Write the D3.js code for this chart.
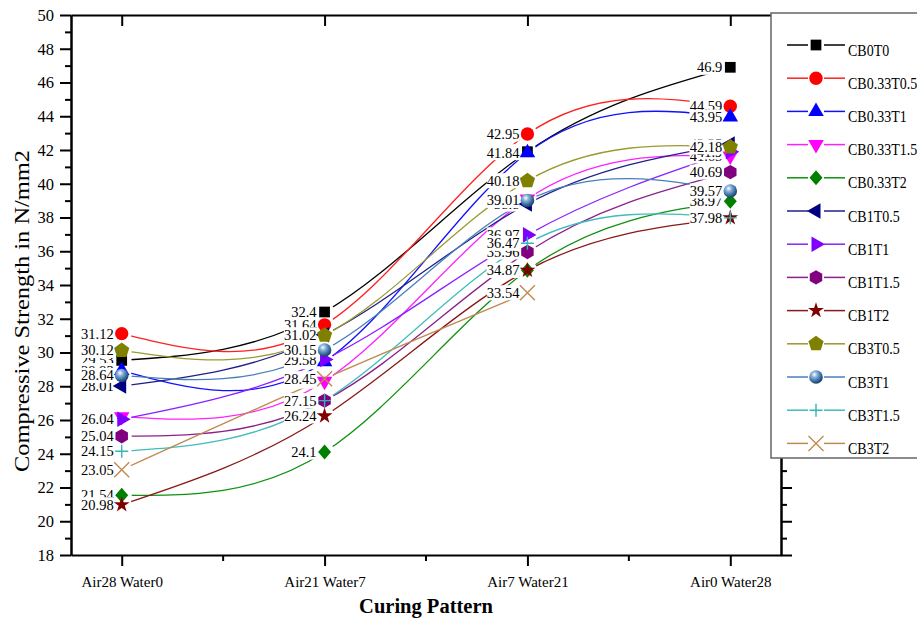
<!DOCTYPE html>
<html>
<head>
<meta charset="utf-8">
<script src="https://cdn.jsdelivr.net/npm/d3@7"></script>
<style>
body { margin: 0; background: #fff; }
svg { display: block; }
text { font-family: "Liberation Serif", "Times New Roman", serif; fill: #000; }
</style>
</head>
<body>
<div id="chart"></div>
<script>
// curing patterns on the x axis
var categories = ['Air28 Water0', 'Air21 Water7', 'Air7 Water21', 'Air0 Water28'];
var yTicks = d3.range(18, 51, 2);
var yMinor = d3.range(19, 50, 2);

// compressive strength (N/mm2) per mix
var seriesNames = ['CB0T0', 'CB0.33T0.5', 'CB0.33T1', 'CB0.33T1.5', 'CB0.33T2', 'CB1T0.5',
    'CB1T1', 'CB1T1.5', 'CB1T2', 'CB3T0.5', 'CB3T1', 'CB3T1.5', 'CB3T2'];
var cb0t0 = [29.53, 32.4, 41.9, 46.9];
var cb033t05 = [31.12, 31.64, 42.95, 44.59];
var cb033t1 = [28.93, 29.45, 41.84, 43.95];
var cb033t15 = [26.2, 28.3, 39.1, 41.65];
var cb033t2 = [21.54, 24.1, 34.87, 38.97];
var cb1t05 = [28.01, 31.05, 38.8, 42.35];
var cb1t1 = [26.04, 29.58, 36.97, 41.9];
var cb1t15 = [25.04, 27.15, 35.96, 40.69];
var cb1t2 = [20.98, 26.24, 34.87, 37.98];
var cb3t05 = [30.12, 31.02, 40.18, 42.18];
var cb3t1 = [28.64, 30.15, 39.01, 39.57];
var cb3t15 = [24.15, 27.15, 36.47, 37.98];
var cb3t2 = [23.05, 28.45, 33.54];

var seriesValues = [cb0t0, cb033t05, cb033t1, cb033t15, cb033t2, cb1t05,
    cb1t1, cb1t15, cb1t2, cb3t05, cb3t1, cb3t15, cb3t2];

// look of each series
var styles = [
    {color: '#000000', line: '#000000', shape: 'square'},
    {color: '#ff0000', line: '#ff2020', shape: 'circle'},
    {color: '#0000ff', line: '#1010ff', shape: 'up'},
    {color: '#ff00ff', line: '#ff20ff', shape: 'down'},
    {color: '#008000', line: '#109010', shape: 'diamond'},
    {color: '#000080', line: '#20208a', shape: 'left'},
    {color: '#8000ff', line: '#8a20ff', shape: 'right'},
    {color: '#800080', line: '#8a208a', shape: 'hexagon'},
    {color: '#800000', line: '#8a1818', shape: 'star'},
    {color: '#808000', line: '#9a9a30', shape: 'pentagon'},
    {color: '#336699', line: '#4a7ebb', shape: 'sphere'},
    {color: '#30b8b8', line: '#40bcbc', shape: 'plus'},
    {color: '#c08a50', line: '#c08a50', shape: 'x'}
];

(function(){
var series = seriesNames.map(function(name, i){
    return {name: name, values: seriesValues[i], style: styles[i]};
});

var width = 917, height = 621;
var plotLeft = 71, plotRight = 781, plotTop = 15, plotBottom = 555;

var x = d3.scalePoint().domain(categories).range([plotLeft, plotRight]).padding(0.25);
var y = d3.scaleLinear().domain([18, 50]).range([plotBottom, plotTop]);

var svg = d3.select('#chart').append('svg')
    .attr('width', width)
    .attr('height', height);
var defs = svg.append('defs');

var grad = defs.append('radialGradient')
    .attr('id', 'sphereGrad')
    .attr('cx', '38%').attr('cy', '32%').attr('r', '68%');
grad.append('stop').attr('offset', '0%').attr('stop-color', '#ffffff');
grad.append('stop').attr('offset', '30%').attr('stop-color', '#8db4dc');
grad.append('stop').attr('offset', '75%').attr('stop-color', '#336699');
grad.append('stop').attr('offset', '100%').attr('stop-color', '#1d3f68');

function polygon(n, r, start){
    var pts = d3.range(n).map(function(k){
        var a = (start + k * 360 / n) * Math.PI / 180;
        return [r * Math.cos(a), r * Math.sin(a)];
    });
    return 'M' + pts.join('L') + 'Z';
}

function markerPath(shape){
    if(shape === 'square') return d3.symbol(d3.symbolSquare, 115)();
    if(shape === 'circle') return d3.symbol(d3.symbolCircle, 140)();
    if(shape === 'up' || shape === 'down' || shape === 'left' || shape === 'right') return d3.symbol(d3.symbolTriangle, 105)();
    if(shape === 'diamond') return 'M0,-7.5L6.5,0L0,7.5L-6.5,0Z';
    if(shape === 'star') return d3.symbol(d3.symbolStar, 78)();
    if(shape === 'hexagon') return polygon(6, 7.2, -90);
    if(shape === 'pentagon') return polygon(5, 8, -90);
    if(shape === 'plus') return 'M-6.5,0H6.5M0,-6.5V6.5';
    if(shape === 'x') return 'M-7.5,-7.5L7.5,7.5M-7.5,7.5L7.5,-7.5';
    return null;
}

var rotation = {down: 180, left: -90, right: 90};

function drawMarker(g, style, px, py){
    var t = 'translate(' + px + ',' + py + ')';
    if(rotation[style.shape]) t += ' rotate(' + rotation[style.shape] + ')';
    if(style.shape === 'sphere'){
        g.append('circle')
            .attr('cx', px).attr('cy', py).attr('r', 6.8)
            .attr('fill', 'url(#sphereGrad)');
        return;
    }
    var p = g.append('path')
        .attr('d', markerPath(style.shape))
        .attr('transform', t);
    if(style.shape === 'plus' || style.shape === 'x'){
        p.attr('fill', 'none').attr('stroke', style.color).attr('stroke-width', 1.4);
    }
    else{
        p.attr('fill', style.color);
    }
}

// gaps between each line and its own symbols
series.forEach(function(s, i){
    var m = defs.append('mask')
        .attr('id', 'gap' + i)
        .attr('maskUnits', 'userSpaceOnUse')
        .attr('x', 0).attr('y', 0)
        .attr('width', width).attr('height', height);
    m.append('rect').attr('width', width).attr('height', height).attr('fill', '#fff');
    s.values.forEach(function(v, j){
        m.append('circle')
            .attr('cx', x(categories[j])).attr('cy', y(v))
            .attr('r', 10).attr('fill', '#000');
    });
});

var line = d3.line()
    .x(function(d, i){ return x(categories[i]); })
    .y(function(d){ return y(d); })
    .curve(d3.curveNatural);

var lineLayer = svg.append('g');
series.forEach(function(s, i){
    lineLayer.append('path')
        .attr('d', line(s.values))
        .attr('fill', 'none')
        .attr('stroke', s.style.line)
        .attr('stroke-width', 1.3)
        .attr('mask', 'url(#gap' + i + ')');
});

// value labels with white boxes, later series on top
var labelLayer = svg.append('g');
series.forEach(function(s){
    s.values.forEach(function(v, j){
        var g = labelLayer.append('g');
        var t = g.append('text')
            .attr('x', x(categories[j]) - 8)
            .attr('y', y(v) + 5)
            .attr('text-anchor', 'end')
            .style('font-size', '14.5px')
            .text(String(v));
        var b = t.node().getBBox();
        g.insert('rect', 'text')
            .attr('x', b.x).attr('y', b.y + 0.5)
            .attr('width', b.width).attr('height', b.height - 1)
            .attr('fill', '#fff');
    });
});

var markerLayer = svg.append('g');
series.forEach(function(s){
    s.values.forEach(function(v, j){
        drawMarker(markerLayer, s.style, x(categories[j]), y(v));
    });
});

// axes
function styleAxis(g){
    g.selectAll('.domain').attr('stroke', '#000').attr('stroke-width', 2);
    g.selectAll('.tick line').attr('stroke', '#000').attr('stroke-width', 2);
    g.selectAll('.tick text').style('font-family', '"Liberation Serif", "Times New Roman", serif');
}

svg.append('g')
    .attr('transform', 'translate(' + plotLeft + ',0)')
    .call(d3.axisLeft(y).tickValues(yMinor).tickSize(6).tickSizeOuter(0).tickFormat(''))
    .call(styleAxis);
svg.append('g')
    .attr('transform', 'translate(' + plotLeft + ',0)')
    .call(d3.axisLeft(y).tickValues(yTicks).tickSize(11).tickSizeOuter(0).tickPadding(6))
    .call(styleAxis)
    .selectAll('.tick text').style('font-size', '16.5px');

svg.append('g')
    .attr('transform', 'translate(' + plotRight + ',0)')
    .call(d3.axisRight(y).tickValues(yMinor).tickSize(6).tickSizeOuter(0).tickFormat(''))
    .call(styleAxis);
svg.append('g')
    .attr('transform', 'translate(' + plotRight + ',0)')
    .call(d3.axisRight(y).tickValues(yTicks).tickSize(11).tickSizeOuter(0).tickFormat(''))
    .call(styleAxis);

var step = x.step();
var bottomAxis = svg.append('g')
    .attr('transform', 'translate(0,' + plotBottom + ')')
    .call(d3.axisBottom(x).tickSize(11).tickSizeOuter(0).tickPadding(10))
    .call(styleAxis);
bottomAxis.selectAll('.tick text').style('font-size', '15px');
categories.slice(1).forEach(function(c){
    bottomAxis.append('line')
        .attr('x1', x(c) - step / 2).attr('x2', x(c) - step / 2)
        .attr('y1', 0).attr('y2', 6)
        .attr('stroke', '#000').attr('stroke-width', 2);
});

svg.append('g')
    .attr('transform', 'translate(0,' + plotTop + ')')
    .call(d3.axisBottom(x).tickSize(11).tickSizeOuter(0).tickFormat(''))
    .call(styleAxis);

// axis titles
svg.append('text')
    .attr('transform', 'translate(29,311) rotate(-90)')
    .attr('text-anchor', 'middle')
    .attr('textLength', 322)
    .attr('lengthAdjust', 'spacingAndGlyphs')
    .style('font-size', '20px')
    .text('Compressive Strength in N/mm2');

svg.append('text')
    .attr('x', (plotLeft + plotRight) / 2)
    .attr('y', 613)
    .attr('text-anchor', 'middle')
    .style('font-size', '20.5px')
    .style('font-weight', 'bold')
    .text('Curing Pattern');

// legend
var legend = svg.append('g');
legend.append('rect')
    .attr('x', 771).attr('y', 13)
    .attr('width', 170).attr('height', 445)
    .attr('fill', '#fff')
    .attr('stroke', '#666')
    .attr('stroke-width', 1.5);

series.forEach(function(s, i){
    var ry = 45 + i * 33.2;
    var row = legend.append('g');
    row.append('line')
        .attr('x1', 787).attr('x2', 808).attr('y1', ry).attr('y2', ry)
        .attr('stroke', s.style.line).attr('stroke-width', 1.5);
    row.append('line')
        .attr('x1', 824).attr('x2', 845).attr('y1', ry).attr('y2', ry)
        .attr('stroke', s.style.line).attr('stroke-width', 1.5);
    drawMarker(row, s.style, 816, ry);
    row.append('text')
        .attr('transform', 'translate(848,' + (ry + 10.5) + ') scale(1,1.22)')
        .style('font-size', '14px')
        .text(s.name);
});
})();
</script>
</body>
</html>
